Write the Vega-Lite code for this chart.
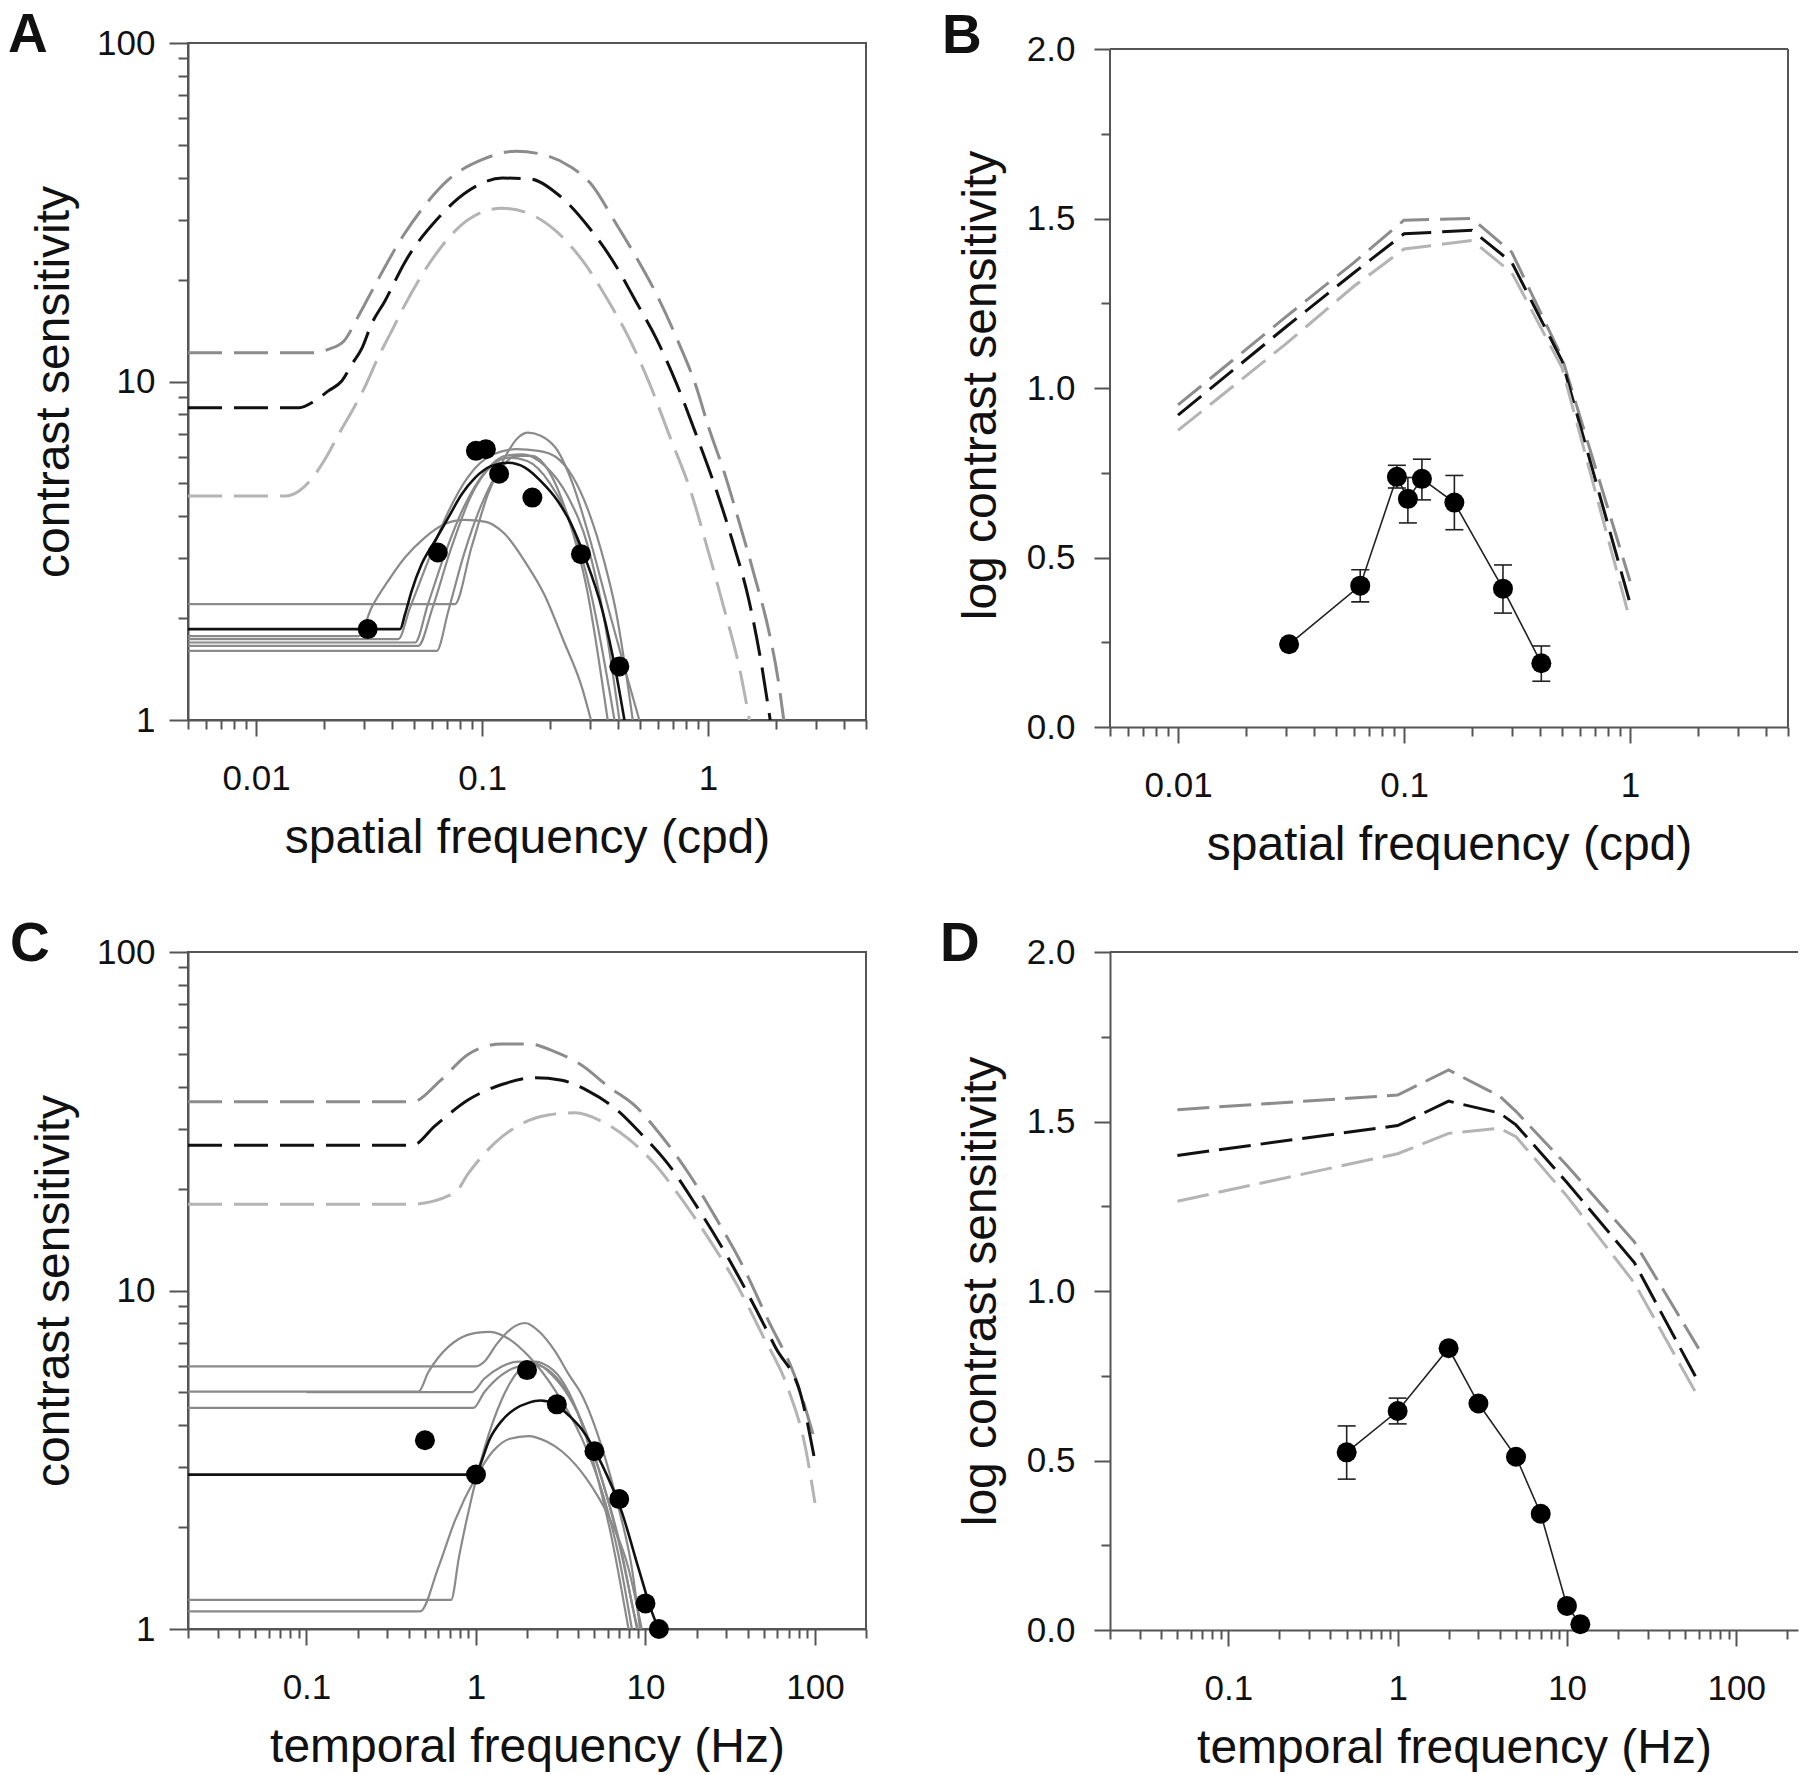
{
"$schema": "https://vega.github.io/schema/vega-lite/v6.json",
"background": "white",
"padding": {"left": 7, "top": 7, "right": 0, "bottom": 0},
"columns": 2,
"bounds": "flush",
"spacing": {"row": 225, "column": 244},
"config": {
  "font": "Liberation Sans",
  "view": {"stroke": "#555555", "strokeWidth": 2},
  "axis": {"domainColor": "#555555", "domainWidth": 2, "tickColor": "#555555", "tickWidth": 2, "labelFont": "Liberation Sans", "labelFontSize": 35, "labelColor": "#111111", "titleFont": "Liberation Sans", "titleFontSize": 48, "titleFontWeight": "normal", "titleColor": "#111111", "grid": false, "labelOverlap": false, "labelFlush": false},
  "title": {"font": "Liberation Sans", "fontSize": 55, "fontWeight": "bold", "color": "#111111", "anchor": "start", "frame": "group", "offset": 0, "baseline": "alphabetic"}
},
"datasets": {
  "A_dash": [
    {"curve":"top","f":0.005,"s":12.16},{"curve":"top","f":0.0182,"s":12.16},{"curve":"top","f":0.0209,"s":12.45},{"curve":"top","f":0.0245,"s":13.18},{"curve":"top","f":0.0282,"s":15.49},{"curve":"top","f":0.0324,"s":18.4},{"curve":"top","f":0.0447,"s":26.9},{"curve":"top","f":0.055,"s":32.7},{"curve":"top","f":0.0708,"s":39.4},{"curve":"top","f":0.1,"s":45.2},{"curve":"top","f":0.1413,"s":47.9},{"curve":"top","f":0.186,"s":46.8},{"curve":"top","f":0.245,"s":43.2},{"curve":"top","f":0.302,"s":38.5},{"curve":"top","f":0.389,"s":29.5},{"curve":"top","f":0.479,"s":23.4},{"curve":"top","f":0.589,"s":18.2},{"curve":"top","f":0.724,"s":13.5},{"curve":"top","f":0.891,"s":9.55},{"curve":"top","f":1.0,"s":7.41},{"curve":"top","f":1.175,"s":5.43},{"curve":"top","f":1.38,"s":3.8},{"curve":"top","f":1.622,"s":2.6},{"curve":"top","f":1.862,"s":1.82},{"curve":"top","f":2.042,"s":1.318},{"curve":"top","f":2.163,"s":1.0},
    {"curve":"mid","f":0.005,"s":8.37},{"curve":"mid","f":0.0155,"s":8.37},{"curve":"mid","f":0.0182,"s":8.77},{"curve":"mid","f":0.0209,"s":9.38},{"curve":"mid","f":0.024,"s":10.05},{"curve":"mid","f":0.0266,"s":11.25},{"curve":"mid","f":0.0295,"s":12.59},{"curve":"mid","f":0.0324,"s":14.76},{"curve":"mid","f":0.0372,"s":17.3},{"curve":"mid","f":0.0457,"s":22.6},{"curve":"mid","f":0.0631,"s":30.1},{"curve":"mid","f":0.0871,"s":36.6},{"curve":"mid","f":0.123,"s":39.9},{"curve":"mid","f":0.162,"s":39.7},{"curve":"mid","f":0.219,"s":35.5},{"curve":"mid","f":0.2985,"s":28.4},{"curve":"mid","f":0.389,"s":22.1},{"curve":"mid","f":0.479,"s":17.26},{"curve":"mid","f":0.589,"s":13.43},{"curve":"mid","f":0.724,"s":9.89},{"curve":"mid","f":0.891,"s":6.9},{"curve":"mid","f":1.084,"s":4.81},{"curve":"mid","f":1.288,"s":3.35},{"curve":"mid","f":1.514,"s":2.27},{"curve":"mid","f":1.718,"s":1.479},{"curve":"mid","f":1.884,"s":1.0},
    {"curve":"low","f":0.005,"s":4.59},{"curve":"low","f":0.0135,"s":4.59},{"curve":"low","f":0.0155,"s":4.75},{"curve":"low","f":0.0178,"s":5.2},{"curve":"low","f":0.0204,"s":5.96},{"curve":"low","f":0.0232,"s":6.98},{"curve":"low","f":0.0266,"s":8.18},{"curve":"low","f":0.0302,"s":9.59},{"curve":"low","f":0.0347,"s":11.78},{"curve":"low","f":0.0398,"s":14.09},{"curve":"low","f":0.0457,"s":16.9},{"curve":"low","f":0.0631,"s":24.0},{"curve":"low","f":0.0871,"s":30.1},{"curve":"low","f":0.123,"s":32.5},{"curve":"low","f":0.162,"s":31.3},{"curve":"low","f":0.214,"s":27.7},{"curve":"low","f":0.2786,"s":22.75},{"curve":"low","f":0.363,"s":17.26},{"curve":"low","f":0.447,"s":13.43},{"curve":"low","f":0.55,"s":9.89},{"curve":"low","f":0.676,"s":6.9},{"curve":"low","f":0.832,"s":4.81},{"curve":"low","f":1.012,"s":3.08},{"curve":"low","f":1.202,"s":2.03},{"curve":"low","f":1.38,"s":1.416},{"curve":"low","f":1.524,"s":1.0}
  ],
  "A_solid": [
    {"curve":"a","f":0.005,"s":2.198},{"curve":"a","f":0.0757,"s":2.198},{"curve":"a","f":0.0897,"s":3.228},{"curve":"a","f":0.1062,"s":4.645},{"curve":"a","f":0.1259,"s":5.957},{"curve":"a","f":0.1442,"s":6.823},{"curve":"a","f":0.1596,"s":7.063},{"curve":"a","f":0.1828,"s":6.902},{"curve":"a","f":0.2163,"s":6.237},{"curve":"a","f":0.2512,"s":5.012},{"curve":"a","f":0.2985,"s":3.467},{"curve":"a","f":0.3656,"s":2.089},{"curve":"a","f":0.4335,"s":1.377},{"curve":"a","f":0.4966,"s":1.0},
    {"curve":"b","f":0.005,"s":1.77},{"curve":"b","f":0.0284,"s":1.77},{"curve":"b","f":0.0325,"s":2.153},{"curve":"b","f":0.0385,"s":2.582},{"curve":"b","f":0.0456,"s":3.02},{"curve":"b","f":0.0558,"s":3.459},{"curve":"b","f":0.0684,"s":3.793},{"curve":"b","f":0.0839,"s":3.899},{"curve":"b","f":0.1028,"s":3.855},{"curve":"b","f":0.1259,"s":3.548},{"curve":"b","f":0.1542,"s":2.951},{"curve":"b","f":0.1888,"s":2.344},{"curve":"b","f":0.2275,"s":1.738},{"curve":"b","f":0.2786,"s":1.23},{"curve":"b","f":0.3034,"s":1.0},
    {"curve":"c","f":0.005,"s":1.734},{"curve":"c","f":0.0426,"s":1.734},{"curve":"c","f":0.0479,"s":2.138},{"curve":"c","f":0.0562,"s":2.818},{"curve":"c","f":0.0692,"s":3.981},{"curve":"c","f":0.0871,"s":5.248},{"curve":"c","f":0.1122,"s":6.095},{"curve":"c","f":0.1413,"s":6.31},{"curve":"c","f":0.1778,"s":6.237},{"curve":"c","f":0.2123,"s":5.984},{"curve":"c","f":0.2512,"s":5.248},{"curve":"c","f":0.2985,"s":4.074},{"curve":"c","f":0.3467,"s":2.951},{"curve":"c","f":0.3917,"s":2.089},{"curve":"c","f":0.4645,"s":1.0},
    {"curve":"d","f":0.005,"s":1.694},{"curve":"d","f":0.0505,"s":1.694},{"curve":"d","f":0.0575,"s":2.188},{"curve":"d","f":0.0676,"s":3.02},{"curve":"d","f":0.0832,"s":4.266},{"curve":"d","f":0.1023,"s":5.37},{"curve":"d","f":0.1259,"s":6.026},{"curve":"d","f":0.1514,"s":6.095},{"curve":"d","f":0.1905,"s":5.623},{"curve":"d","f":0.2399,"s":4.571},{"curve":"d","f":0.2951,"s":3.236},{"curve":"d","f":0.3467,"s":1.995},{"curve":"d","f":0.4055,"s":1.0},
    {"curve":"e","f":0.005,"s":1.656},{"curve":"e","f":0.0522,"s":1.656},{"curve":"e","f":0.0603,"s":2.138},{"curve":"e","f":0.0724,"s":3.162},{"curve":"e","f":0.0891,"s":4.571},{"curve":"e","f":0.1096,"s":5.623},{"curve":"e","f":0.1318,"s":5.957},{"curve":"e","f":0.1585,"s":5.821},{"curve":"e","f":0.1995,"s":5.012},{"curve":"e","f":0.2512,"s":3.715},{"curve":"e","f":0.302,"s":2.399},{"curve":"e","f":0.3855,"s":1.0},
    {"curve":"g","f":0.005,"s":1.6},{"curve":"g","f":0.063,"s":1.6},{"curve":"g","f":0.0708,"s":2.089},{"curve":"g","f":0.0832,"s":3.09},{"curve":"g","f":0.1,"s":4.365},{"curve":"g","f":0.1202,"s":5.495},{"curve":"g","f":0.1413,"s":6.026},{"curve":"g","f":0.166,"s":6.026},{"curve":"g","f":0.1995,"s":5.37},{"curve":"g","f":0.2399,"s":3.981},{"curve":"g","f":0.2884,"s":2.512},{"curve":"g","f":0.3597,"s":1.0}
  ],
  "A_fit": [
    {"f":0.005,"s":1.856},{"f":0.0434,"s":1.856},{"f":0.0456,"s":2.05},{"f":0.0488,"s":2.404},{"f":0.054,"s":2.884},{"f":0.0618,"s":3.373},{"f":0.0708,"s":3.954},{"f":0.0813,"s":4.645},{"f":0.0933,"s":5.2},{"f":0.1096,"s":5.623},{"f":0.1303,"s":5.754},{"f":0.1549,"s":5.57},{"f":0.182,"s":5.08},{"f":0.2163,"s":4.436},{"f":0.2483,"s":3.784},{"f":0.2818,"s":3.09},{"f":0.342,"s":2.089},{"f":0.3917,"s":1.377},{"f":0.4266,"s":1.0}
  ],
  "A_pts": [
    {"f":0.0312,"s":1.856},{"f":0.0637,"s":3.124},{"f":0.094,"s":6.24},{"f":0.104,"s":6.31},{"f":0.119,"s":5.34},{"f":0.167,"s":4.54},{"f":0.274,"s":3.09},{"f":0.405,"s":1.44}
  ],
  "B_frame": [
    {"f":0.005,"f2":5,"s0":0,"s1":2}
  ],
  "B_dash": [
    {"curve":"top","f":0.01,"s":0.95},{"curve":"top","f":0.03,"s":1.21},{"curve":"top","f":0.06,"s":1.37},{"curve":"top","f":0.1,"s":1.495},{"curve":"top","f":0.2,"s":1.5},{"curve":"top","f":0.3,"s":1.4},{"curve":"top","f":0.5,"s":1.09},{"curve":"top","f":1,"s":0.43},
    {"curve":"mid","f":0.01,"s":0.92},{"curve":"mid","f":0.03,"s":1.18},{"curve":"mid","f":0.06,"s":1.34},{"curve":"mid","f":0.1,"s":1.455},{"curve":"mid","f":0.2,"s":1.465},{"curve":"mid","f":0.3,"s":1.37},{"curve":"mid","f":0.5,"s":1.08},{"curve":"mid","f":1,"s":0.365},
    {"curve":"low","f":0.01,"s":0.875},{"curve":"low","f":0.03,"s":1.13},{"curve":"low","f":0.06,"s":1.3},{"curve":"low","f":0.1,"s":1.41},{"curve":"low","f":0.2,"s":1.435},{"curve":"low","f":0.3,"s":1.34},{"curve":"low","f":0.5,"s":1.06},{"curve":"low","f":1,"s":0.315}
  ],
  "B_pts": [
    {"f":0.031,"s":0.244,"lo":null,"hi":null},{"f":0.064,"s":0.417,"lo":0.369,"hi":0.464},{"f":0.093,"s":0.738,"lo":0.705,"hi":0.772},{"f":0.104,"s":0.673,"lo":0.602,"hi":0.736},{"f":0.12,"s":0.732,"lo":0.67,"hi":0.79},{"f":0.167,"s":0.662,"lo":0.582,"hi":0.742},{"f":0.274,"s":0.408,"lo":0.336,"hi":0.478},{"f":0.405,"s":0.188,"lo":0.135,"hi":0.239}
  ],
  "C_dash": [
    {"curve":"top","f":0.02,"s":36.1},{"curve":"top","f":0.4207,"s":36.1},{"curve":"top","f":0.6166,"s":41.7},{"curve":"top","f":0.9016,"s":49.9},{"curve":"top","f":1.419,"s":53.5},{"curve":"top","f":2.037,"s":53.5},{"curve":"top","f":2.931,"s":50.7},{"curve":"top","f":4.207,"s":46.3},{"curve":"top","f":6.053,"s":40.0},{"curve":"top","f":8.69,"s":35.1},{"curve":"top","f":12.5,"s":28.5},{"curve":"top","f":17.95,"s":22.2},{"curve":"top","f":25.8,"s":16.5},{"curve":"top","f":37.1,"s":11.94},{"curve":"top","f":53.2,"s":8.13},{"curve":"top","f":76.6,"s":5.53},{"curve":"top","f":100,"s":3.59},
    {"curve":"mid","f":0.02,"s":26.85},{"curve":"mid","f":0.4207,"s":26.85},{"curve":"mid","f":0.5754,"s":30.7},{"curve":"mid","f":0.9016,"s":36.6},{"curve":"mid","f":1.419,"s":40.6},{"curve":"mid","f":2.228,"s":42.5},{"curve":"mid","f":3.206,"s":41.8},{"curve":"mid","f":4.603,"s":38.8},{"curve":"mid","f":6.622,"s":34.5},{"curve":"mid","f":9.506,"s":28.9},{"curve":"mid","f":13.68,"s":23.55},{"curve":"mid","f":19.63,"s":18.03},{"curve":"mid","f":28.25,"s":13.43},{"curve":"mid","f":40.55,"s":9.7},{"curve":"mid","f":58.3,"s":6.81},{"curve":"mid","f":83.8,"s":4.775},{"curve":"mid","f":100,"s":3.126},
    {"curve":"low","f":0.02,"s":17.99},{"curve":"low","f":0.4169,"s":17.99},{"curve":"low","f":0.7516,"s":19.45},{"curve":"low","f":0.9016,"s":22.18},{"curve":"low","f":1.294,"s":27.3},{"curve":"low","f":1.862,"s":31.1},{"curve":"low","f":2.673,"s":33.0},{"curve":"low","f":3.846,"s":33.5},{"curve":"low","f":5.521,"s":31.6},{"curve":"low","f":7.943,"s":28.05},{"curve":"low","f":11.4,"s":23.55},{"curve":"low","f":16.4,"s":18.58},{"curve":"low","f":23.55,"s":14.26},{"curve":"low","f":33.9,"s":10.59},{"curve":"low","f":48.6,"s":7.447},{"curve":"low","f":70.0,"s":5.07},{"curve":"low","f":87.7,"s":3.45},{"curve":"low","f":100,"s":2.355}
  ],
  "C_solid": [
    {"curve":"g1","f":0.02,"s":5.97},{"curve":"g1","f":1.0,"s":5.97},{"curve":"g1","f":1.13,"s":6.194},{"curve":"g1","f":1.318,"s":6.918},{"curve":"g1","f":1.486,"s":7.43},{"curve":"g1","f":1.698,"s":7.85},{"curve":"g1","f":1.945,"s":8.017},{"curve":"g1","f":2.399,"s":7.499},{"curve":"g1","f":2.931,"s":6.607},{"curve":"g1","f":3.548,"s":5.623},{"curve":"g1","f":4.207,"s":4.92},{"curve":"g1","f":5.521,"s":3.451},{"curve":"g1","f":6.934,"s":2.286},{"curve":"g1","f":8.318,"s":1.51},{"curve":"g1","f":9.29,"s":1.0},
    {"curve":"g2","f":0.02,"s":5.023},{"curve":"g2","f":0.4571,"s":5.023},{"curve":"g2","f":0.5248,"s":5.754},{"curve":"g2","f":0.5998,"s":6.339},{"curve":"g2","f":0.787,"s":7.178},{"curve":"g2","f":1.0,"s":7.499},{"curve":"g2","f":1.211,"s":7.551},{"curve":"g2","f":1.585,"s":7.161},{"curve":"g2","f":2.037,"s":6.412},{"curve":"g2","f":2.931,"s":5.07},{"curve":"g2","f":4.207,"s":3.664},{"curve":"g2","f":5.521,"s":2.57},{"curve":"g2","f":6.934,"s":1.652},{"curve":"g2","f":8.318,"s":1.0},
    {"curve":"g3","f":0.1,"s":5.012},{"curve":"g3","f":0.9441,"s":5.012},{"curve":"g3","f":1.122,"s":5.495},{"curve":"g3","f":1.413,"s":5.957},{"curve":"g3","f":1.778,"s":6.166},{"curve":"g3","f":2.239,"s":6.095},{"curve":"g3","f":2.818,"s":5.623},{"curve":"g3","f":3.548,"s":4.842},{"curve":"g3","f":4.467,"s":3.802},{"curve":"g3","f":5.623,"s":2.692},{"curve":"g3","f":7.079,"s":1.738},{"curve":"g3","f":8.913,"s":1.0},
    {"curve":"g4","f":0.02,"s":4.498},{"curve":"g4","f":0.9638,"s":4.498},{"curve":"g4","f":1.122,"s":5.012},{"curve":"g4","f":1.413,"s":5.623},{"curve":"g4","f":1.778,"s":5.957},{"curve":"g4","f":2.239,"s":6.026},{"curve":"g4","f":2.818,"s":5.689},{"curve":"g4","f":3.548,"s":4.898},{"curve":"g4","f":4.467,"s":3.802},{"curve":"g4","f":5.623,"s":2.692},{"curve":"g4","f":7.079,"s":1.778},{"curve":"g4","f":8.71,"s":1.072},{"curve":"g4","f":9.016,"s":1.0},
    {"curve":"g5","f":0.02,"s":1.219},{"curve":"g5","f":0.7129,"s":1.219},{"curve":"g5","f":0.7943,"s":1.633},{"curve":"g5","f":0.8913,"s":2.158},{"curve":"g5","f":1.0,"s":2.761},{"curve":"g5","f":1.122,"s":3.42},{"curve":"g5","f":1.259,"s":4.093},{"curve":"g5","f":1.413,"s":4.742},{"curve":"g5","f":1.585,"s":5.321},{"curve":"g5","f":1.778,"s":5.781},{"curve":"g5","f":1.995,"s":6.067},{"curve":"g5","f":2.239,"s":6.166},{"curve":"g5","f":2.512,"s":6.067},{"curve":"g5","f":3.162,"s":5.495},{"curve":"g5","f":3.981,"s":4.365},{"curve":"g5","f":5.012,"s":3.02},{"curve":"g5","f":6.31,"s":1.862},{"curve":"g5","f":7.943,"s":1.0},
    {"curve":"g6","f":0.02,"s":1.127},{"curve":"g6","f":0.4677,"s":1.127},{"curve":"g6","f":0.5998,"s":1.521},{"curve":"g6","f":0.7516,"s":2.089},{"curve":"g6","f":1.0,"s":2.812},{"curve":"g6","f":1.259,"s":3.35},{"curve":"g6","f":1.585,"s":3.648},{"curve":"g6","f":2.037,"s":3.715},{"curve":"g6","f":2.63,"s":3.573},{"curve":"g6","f":3.206,"s":3.35},{"curve":"g6","f":4.603,"s":2.729},{"curve":"g6","f":6.053,"s":2.153},{"curve":"g6","f":7.943,"s":1.51},{"curve":"g6","f":9.506,"s":1.0}
  ],
  "C_fit": [
    {"f":0.02,"s":2.858},{"f":1.0,"s":2.858},{"f":1.05,"s":3.02},{"f":1.202,"s":3.631},{"f":1.419,"s":4.121},{"f":1.698,"s":4.467},{"f":2.037,"s":4.656},{"f":2.399,"s":4.732},{"f":2.931,"s":4.613},{"f":3.548,"s":4.266},{"f":4.207,"s":3.89},{"f":5.521,"s":3.069},{"f":7.244,"s":2.218},{"f":9.1,"s":1.51},{"f":10.89,"s":1.125},{"f":11.94,"s":1.0}
  ],
  "C_pts": [
    {"f":0.5,"s":3.61},{"f":1,"s":2.86},{"f":2,"s":5.82},{"f":3,"s":4.61},{"f":5,"s":3.35},{"f":7,"s":2.42},{"f":10,"s":1.19},{"f":12,"s":1.0}
  ],
  "D_frame": [
    {"s1":2}
  ],
  "D_dash": [
    {"curve":"top","f":0.05,"s":1.535},{"curve":"top","f":1,"s":1.578},{"curve":"top","f":2,"s":1.652},{"curve":"top","f":4,"s":1.575},{"curve":"top","f":5,"s":1.53},{"curve":"top","f":10,"s":1.37},{"curve":"top","f":25,"s":1.145},{"curve":"top","f":60,"s":0.83},
    {"curve":"mid","f":0.05,"s":1.4},{"curve":"mid","f":1,"s":1.488},{"curve":"mid","f":2,"s":1.56},{"curve":"mid","f":4,"s":1.525},{"curve":"mid","f":5,"s":1.49},{"curve":"mid","f":10,"s":1.32},{"curve":"mid","f":25,"s":1.084},{"curve":"mid","f":60,"s":0.73},
    {"curve":"low","f":0.05,"s":1.265},{"curve":"low","f":1,"s":1.405},{"curve":"low","f":2,"s":1.465},{"curve":"low","f":4,"s":1.48},{"curve":"low","f":5,"s":1.455},{"curve":"low","f":10,"s":1.28},{"curve":"low","f":25,"s":1.024},{"curve":"low","f":60,"s":0.685}
  ],
  "D_pts": [
    {"f":0.5,"s":0.524,"lo":0.445,"hi":0.602},{"f":1,"s":0.646,"lo":0.608,"hi":0.684},{"f":2,"s":0.831,"lo":null,"hi":null},{"f":3,"s":0.668,"lo":null,"hi":null},{"f":5,"s":0.511,"lo":null,"hi":null},{"f":7,"s":0.343,"lo":null,"hi":null},{"f":10,"s":0.071,"lo":null,"hi":null},{"f":12,"s":0.017,"lo":null,"hi":null}
  ]
},
"concat": [
  {
    "title": {"text": "A", "dx": -180, "dy": 42},
    "width": 678, "height": 677,
    "layer": [
      {"data": {"name": "A_dash"},
       "mark": {"type": "line", "strokeDash": [34, 12], "strokeWidth": 3, "interpolate": "monotone", "clip": true},
       "encoding": {
         "x": {"field": "f", "type": "quantitative", "scale": {"type": "log", "domain": [0.005, 5], "nice": false},
               "axis": {"title": "spatial frequency (cpd)", "values": [0.005,0.006,0.007,0.008,0.009,0.01,0.02,0.03,0.04,0.05,0.06,0.07,0.08,0.09,0.1,0.2,0.3,0.4,0.5,0.6,0.7,0.8,0.9,1,2,3,4,5],
                        "labelExpr": "indexof([0.01,0.1,1], datum.value) >= 0 ? format(datum.value, '~g') : ''",
                        "tickSize": {"condition": {"test": "indexof([0.01,0.1,1], datum.value) >= 0", "value": 16}, "value": 9},
                        "labelPadding": 25, "titlePadding": 18}},
         "y": {"field": "s", "type": "quantitative", "scale": {"type": "log", "domain": [1, 100], "nice": false},
               "axis": {"title": "contrast sensitivity", "values": [1,2,3,4,5,6,7,8,9,10,20,30,40,50,60,70,80,90,100],
                        "labelExpr": "indexof([1,10,100], datum.value) >= 0 ? format(datum.value, '~g') : ''",
                        "tickSize": {"condition": {"test": "indexof([1,10,100], datum.value) >= 0", "value": 19}, "value": 10},
                        "labelPadding": 14, "titlePadding": 18}},
         "color": {"field": "curve", "type": "nominal", "scale": {"domain": ["top", "mid", "low"], "range": ["#8c8c8c", "#111111", "#b4b4b4"]}, "legend": null}
       }},
      {"data": {"name": "A_solid"},
       "mark": {"type": "line", "color": "#8a8a8a", "strokeWidth": 2.2, "interpolate": "monotone", "clip": true},
       "encoding": {"x": {"field": "f", "type": "quantitative"}, "y": {"field": "s", "type": "quantitative"}, "detail": {"field": "curve"}}},
      {"data": {"name": "A_fit"},
       "mark": {"type": "line", "color": "#111111", "strokeWidth": 2.6, "interpolate": "monotone", "clip": true},
       "encoding": {"x": {"field": "f", "type": "quantitative"}, "y": {"field": "s", "type": "quantitative"}}},
      {"data": {"name": "A_pts"},
       "mark": {"type": "circle", "size": 400, "color": "#000000", "opacity": 1},
       "encoding": {"x": {"field": "f", "type": "quantitative"}, "y": {"field": "s", "type": "quantitative"}}}
    ]
  },
  {
    "title": {"text": "B", "dx": -168, "dy": 37},
    "width": 678, "height": 684,
    "view": {"stroke": null},
    "layer": [
      {"data": {"name": "B_dash"},
       "mark": {"type": "line", "strokeDash": [30, 11], "strokeWidth": 3, "clip": true},
       "encoding": {
         "x": {"field": "f", "type": "quantitative", "scale": {"type": "log", "domain": [0.005, 5], "nice": false},
               "axis": {"title": "spatial frequency (cpd)", "values": [0.005,0.006,0.007,0.008,0.009,0.01,0.02,0.03,0.04,0.05,0.06,0.07,0.08,0.09,0.1,0.2,0.3,0.4,0.5,0.6,0.7,0.8,0.9,1,2,3,4,5],
                        "labelExpr": "indexof([0.01,0.1,1], datum.value) >= 0 ? format(datum.value, '~g') : ''",
                        "tickSize": {"condition": {"test": "indexof([0.01,0.1,1], datum.value) >= 0", "value": 16}, "value": 9},
                        "labelPadding": 25, "titlePadding": 18}},
         "y": {"field": "s", "type": "quantitative", "scale": {"domain": [0, 2.0177], "nice": false, "zero": false},
               "axis": {"title": "log contrast sensitivity", "values": [0,0.25,0.5,0.75,1,1.25,1.5,1.75,2], "domain": false,
                        "labelExpr": "datum.value % 0.5 == 0 ? format(datum.value, '.1f') : ''",
                        "tickSize": {"condition": {"test": "datum.value % 0.5 == 0", "value": 16}, "value": 9},
                        "labelPadding": 19, "titlePadding": 21}},
         "color": {"field": "curve", "type": "nominal", "scale": {"domain": ["top", "mid", "low"], "range": ["#8c8c8c", "#111111", "#8c8c8c"]}, "legend": null}
       }},
      {"data": {"name": "B_frame"},
       "mark": {"type": "rule", "color": "#555555", "strokeWidth": 2},
       "encoding": {"x": {"field": "f", "type": "quantitative"}, "x2": {"field": "f2"}, "y": {"field": "s1", "type": "quantitative"}}},
      {"data": {"name": "B_frame"},
       "mark": {"type": "rule", "color": "#555555", "strokeWidth": 2},
       "encoding": {"x": {"field": "f", "type": "quantitative"}, "y": {"field": "s0", "type": "quantitative"}, "y2": {"field": "s1"}}},
      {"data": {"name": "B_frame"},
       "mark": {"type": "rule", "color": "#555555", "strokeWidth": 2},
       "encoding": {"x": {"field": "f2", "type": "quantitative"}, "y": {"field": "s0", "type": "quantitative"}, "y2": {"field": "s1"}}},
      {"data": {"name": "B_pts"},
       "mark": {"type": "line", "color": "#222222", "strokeWidth": 1.6},
       "encoding": {"x": {"field": "f", "type": "quantitative"}, "y": {"field": "s", "type": "quantitative"}}},
      {"data": {"name": "B_pts"}, "transform": [{"filter": "datum.lo != null"}],
       "mark": {"type": "rule", "color": "#222222", "strokeWidth": 1.6},
       "encoding": {"x": {"field": "f", "type": "quantitative"}, "y": {"field": "lo", "type": "quantitative"}, "y2": {"field": "hi"}}},
      {"data": {"name": "B_pts"}, "transform": [{"filter": "datum.lo != null"}],
       "mark": {"type": "tick", "orient": "horizontal", "size": 18, "thickness": 1.6, "color": "#222222", "opacity": 1},
       "encoding": {"x": {"field": "f", "type": "quantitative"}, "y": {"field": "lo", "type": "quantitative"}}},
      {"data": {"name": "B_pts"}, "transform": [{"filter": "datum.lo != null"}],
       "mark": {"type": "tick", "orient": "horizontal", "size": 18, "thickness": 1.6, "color": "#222222", "opacity": 1},
       "encoding": {"x": {"field": "f", "type": "quantitative"}, "y": {"field": "hi", "type": "quantitative"}}},
      {"data": {"name": "B_pts"},
       "mark": {"type": "circle", "size": 400, "color": "#000000", "opacity": 1},
       "encoding": {"x": {"field": "f", "type": "quantitative"}, "y": {"field": "s", "type": "quantitative"}}}
    ]
  },
  {
    "title": {"text": "C", "dx": -178, "dy": 42},
    "width": 678, "height": 677,
    "layer": [
      {"data": {"name": "C_dash"},
       "mark": {"type": "line", "strokeDash": [34, 12], "strokeWidth": 3, "interpolate": "monotone", "clip": true},
       "encoding": {
         "x": {"field": "f", "type": "quantitative", "scale": {"type": "log", "domain": [0.02, 200], "nice": false},
               "axis": {"title": "temporal frequency (Hz)", "values": [0.02,0.03,0.04,0.05,0.06,0.07,0.08,0.09,0.1,0.2,0.3,0.4,0.5,0.6,0.7,0.8,0.9,1,2,3,4,5,6,7,8,9,10,20,30,40,50,60,70,80,90,100,200],
                        "labelExpr": "indexof([0.1,1,10,100], datum.value) >= 0 ? format(datum.value, '~g') : ''",
                        "tickSize": {"condition": {"test": "indexof([0.1,1,10,100], datum.value) >= 0", "value": 16}, "value": 9},
                        "labelPadding": 25, "titlePadding": 18}},
         "y": {"field": "s", "type": "quantitative", "scale": {"type": "log", "domain": [1, 100], "nice": false},
               "axis": {"title": "contrast sensitivity", "values": [1,2,3,4,5,6,7,8,9,10,20,30,40,50,60,70,80,90,100],
                        "labelExpr": "indexof([1,10,100], datum.value) >= 0 ? format(datum.value, '~g') : ''",
                        "tickSize": {"condition": {"test": "indexof([1,10,100], datum.value) >= 0", "value": 19}, "value": 10},
                        "labelPadding": 14, "titlePadding": 18}},
         "color": {"field": "curve", "type": "nominal", "scale": {"domain": ["top", "mid", "low"], "range": ["#8c8c8c", "#111111", "#8c8c8c"]}, "legend": null}
       }},
      {"data": {"name": "C_solid"},
       "mark": {"type": "line", "color": "#8a8a8a", "strokeWidth": 2.2, "interpolate": "monotone", "clip": true},
       "encoding": {"x": {"field": "f", "type": "quantitative"}, "y": {"field": "s", "type": "quantitative"}, "detail": {"field": "curve"}}},
      {"data": {"name": "C_fit"},
       "mark": {"type": "line", "color": "#111111", "strokeWidth": 2.6, "interpolate": "monotone", "clip": true},
       "encoding": {"x": {"field": "f", "type": "quantitative"}, "y": {"field": "s", "type": "quantitative"}}},
      {"data": {"name": "C_pts"},
       "mark": {"type": "circle", "size": 400, "color": "#000000", "opacity": 1},
       "encoding": {"x": {"field": "f", "type": "quantitative"}, "y": {"field": "s", "type": "quantitative"}}}
    ]
  },
  {
    "title": {"text": "D", "dx": -170, "dy": 42},
    "width": 688, "height": 678,
    "view": {"stroke": null},
    "layer": [
      {"data": {"name": "D_dash"},
       "mark": {"type": "line", "strokeDash": [32, 10], "strokeWidth": 3, "clip": true},
       "encoding": {
         "x": {"field": "f", "type": "quantitative", "scale": {"type": "log", "domain": [0.02, 231.6], "nice": false},
               "axis": {"title": "temporal frequency (Hz)", "values": [0.02,0.03,0.04,0.05,0.06,0.07,0.08,0.09,0.1,0.2,0.3,0.4,0.5,0.6,0.7,0.8,0.9,1,2,3,4,5,6,7,8,9,10,20,30,40,50,60,70,80,90,100,200],
                        "labelExpr": "indexof([0.1,1,10,100], datum.value) >= 0 ? format(datum.value, '~g') : ''",
                        "tickSize": {"condition": {"test": "indexof([0.1,1,10,100], datum.value) >= 0", "value": 16}, "value": 9},
                        "labelPadding": 25, "titlePadding": 18}},
         "y": {"field": "s", "type": "quantitative", "scale": {"domain": [0, 2], "nice": false, "zero": false},
               "axis": {"title": "log contrast sensitivity", "values": [0,0.25,0.5,0.75,1,1.25,1.5,1.75,2],
                        "labelExpr": "datum.value % 0.5 == 0 ? format(datum.value, '.1f') : ''",
                        "tickSize": {"condition": {"test": "datum.value % 0.5 == 0", "value": 16}, "value": 9},
                        "labelPadding": 19, "titlePadding": 21}},
         "color": {"field": "curve", "type": "nominal", "scale": {"domain": ["top", "mid", "low"], "range": ["#8c8c8c", "#111111", "#8c8c8c"]}, "legend": null}
       }},
      {"data": {"name": "D_frame"},
       "mark": {"type": "rule", "color": "#555555", "strokeWidth": 2},
       "encoding": {"y": {"field": "s1", "type": "quantitative"}}},
      {"data": {"name": "D_pts"},
       "mark": {"type": "line", "color": "#222222", "strokeWidth": 1.6},
       "encoding": {"x": {"field": "f", "type": "quantitative"}, "y": {"field": "s", "type": "quantitative"}}},
      {"data": {"name": "D_pts"}, "transform": [{"filter": "datum.lo != null"}],
       "mark": {"type": "rule", "color": "#222222", "strokeWidth": 1.6},
       "encoding": {"x": {"field": "f", "type": "quantitative"}, "y": {"field": "lo", "type": "quantitative"}, "y2": {"field": "hi"}}},
      {"data": {"name": "D_pts"}, "transform": [{"filter": "datum.lo != null"}],
       "mark": {"type": "tick", "orient": "horizontal", "size": 18, "thickness": 1.6, "color": "#222222", "opacity": 1},
       "encoding": {"x": {"field": "f", "type": "quantitative"}, "y": {"field": "lo", "type": "quantitative"}}},
      {"data": {"name": "D_pts"}, "transform": [{"filter": "datum.lo != null"}],
       "mark": {"type": "tick", "orient": "horizontal", "size": 18, "thickness": 1.6, "color": "#222222", "opacity": 1},
       "encoding": {"x": {"field": "f", "type": "quantitative"}, "y": {"field": "hi", "type": "quantitative"}}},
      {"data": {"name": "D_pts"},
       "mark": {"type": "circle", "size": 400, "color": "#000000", "opacity": 1},
       "encoding": {"x": {"field": "f", "type": "quantitative"}, "y": {"field": "s", "type": "quantitative"}}}
    ]
  }
]
}
